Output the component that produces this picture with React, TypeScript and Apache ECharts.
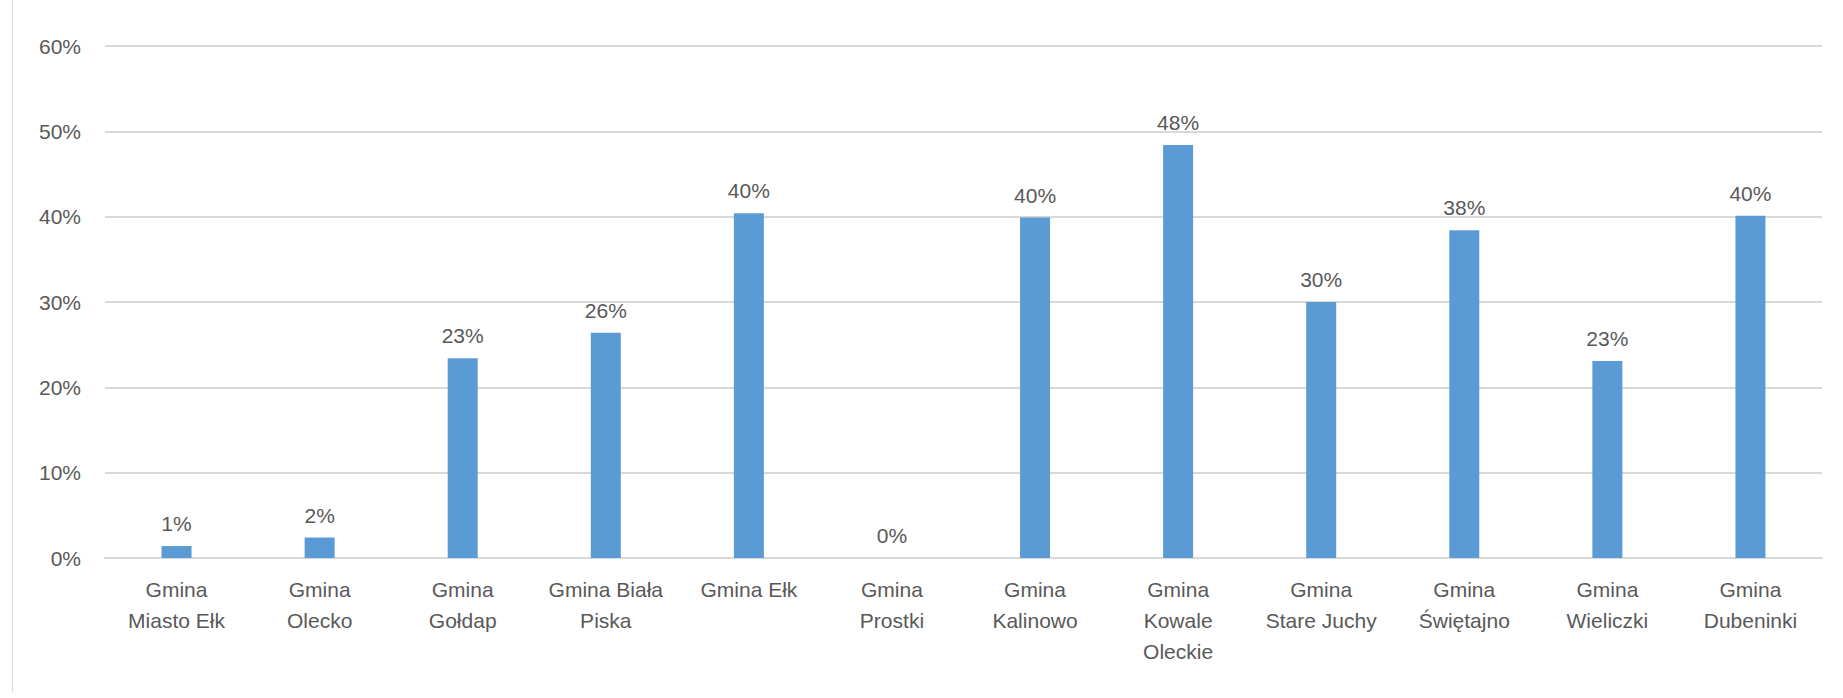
import React, { useEffect, useRef } from 'react';
import * as echarts from 'echarts';

const categories = [
  'Gmina\nMiasto Ełk',
  'Gmina\nOlecko',
  'Gmina\nGołdap',
  'Gmina Biała\nPiska',
  'Gmina Ełk',
  'Gmina\nProstki',
  'Gmina\nKalinowo',
  'Gmina\nKowale\nOleckie',
  'Gmina\nStare Juchy',
  'Gmina\nŚwiętajno',
  'Gmina\nWieliczki',
  'Gmina\nDubeninki',
];
const values = [1.4, 2.4, 23.4, 26.4, 40.4, 0, 39.9, 48.4, 30.0, 38.4, 23.1, 40.1];

const App: React.FC = () => {
  const chartRef = useRef<HTMLDivElement>(null);

  useEffect(() => {
    if (!chartRef.current) return;
    const chart = echarts.init(chartRef.current, null, { renderer: 'svg' });
    const font = "'Liberation Sans', Arial, sans-serif";
    chart.setOption({
      animation: false,
      grid: { left: 105, right: 21, top: 46, bottom: 140, containLabel: false },
      xAxis: {
        type: 'category',
        data: categories,
        axisLine: { lineStyle: { color: '#d9d9d9', width: 2 } },
        axisTick: { show: false },
        axisLabel: { color: '#595959', fontSize: 21, fontFamily: font, lineHeight: 31, margin: 16, interval: 0 },
      },
      yAxis: {
        type: 'value',
        min: 0,
        max: 60,
        interval: 10,
        axisLine: { show: false },
        axisTick: { show: false },
        splitLine: { lineStyle: { color: '#d9d9d9', width: 2 } },
        axisLabel: { color: '#595959', fontSize: 21, fontFamily: font, margin: 24, formatter: '{value}%' },
      },
      series: [
        {
          type: 'bar',
          data: values,
          barWidth: 30,
          itemStyle: { color: '#5b9bd5' },
          label: {
            show: true,
            position: 'top',
            distance: 12,
            color: '#595959',
            fontSize: 21,
            fontFamily: font,
            formatter: (p: any) => `${Math.round(p.value)}%`,
          },
        },
      ],
    });
    return () => chart.dispose();
  }, []);

  return (
    <div style={{ position: 'absolute', left: 0, top: 0, width: 1843, height: 698, background: '#fff' }}>
      <div style={{ position: 'absolute', left: 12, top: 0, width: 1, height: 692, background: '#d9d9d9' }} />
      <div ref={chartRef} style={{ position: 'absolute', left: 0, top: 0, width: 1843, height: 698 }} />
    </div>
  );
};

export default App;
